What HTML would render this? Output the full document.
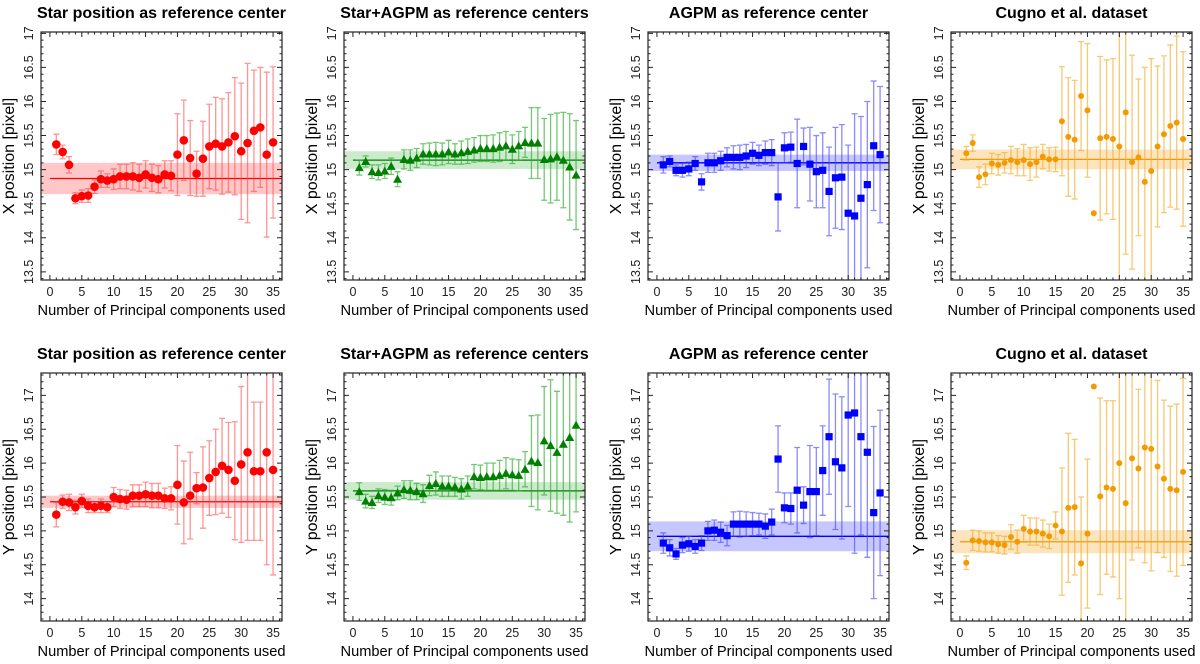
<!DOCTYPE html>
<html><head><meta charset="utf-8"><style>
html,body{margin:0;padding:0;background:#fff;}
svg{display:block;font-family:"Liberation Sans",sans-serif;}
</style></head><body>
<svg id="fig" width="1200" height="664" viewBox="0 0 1200 664"></svg>
<script>
const pcs = Array.from({length:35},(_,i)=>i+1);
const redXVal=[15.37,15.26,15.07,14.58,14.61,14.62,14.75,14.86,14.84,14.86,14.9,14.9,14.9,14.88,14.93,14.88,14.86,14.93,14.91,15.22,15.43,15.17,14.94,15.16,15.34,15.38,15.34,15.4,15.49,15.27,15.39,15.57,15.62,15.22,15.4];
const redXErr=[0.15,0.1,0.12,0.08,0.09,0.1,0.1,0.12,0.1,0.15,0.18,0.18,0.2,0.2,0.2,0.2,0.2,0.2,0.22,0.6,0.59,0.55,0.33,0.55,0.62,0.68,0.7,0.73,0.86,1.0,1.17,0.89,0.88,1.21,1.11];
const redXMean=[14.87,0.23];
const redYVal=[15.24,15.43,15.42,15.35,15.44,15.37,15.35,15.37,15.35,15.5,15.47,15.46,15.52,15.52,15.54,15.52,15.52,15.48,15.48,15.68,15.42,15.52,15.63,15.64,15.78,15.87,15.96,15.9,15.74,15.98,16.16,15.88,15.88,16.16,15.9];
const redYErr=[0.18,0.1,0.12,0.1,0.1,0.1,0.08,0.1,0.08,0.14,0.14,0.14,0.16,0.16,0.18,0.18,0.18,0.15,0.17,0.58,0.61,0.64,0.23,0.6,0.55,0.63,0.7,0.7,0.87,1.15,1.3,1.02,1.02,1.66,1.55];
const redYMean=[15.43,0.09];
const grnXVal=[15.03,15.12,14.97,14.96,14.98,15.05,14.86,15.15,15.14,15.17,15.23,15.23,15.23,15.23,15.26,15.23,15.25,15.27,15.29,15.31,15.31,15.31,15.33,15.35,15.3,15.35,15.4,15.39,15.39,15.15,15.16,15.19,15.14,15.04,14.92];
const grnXErr=[0.11,0.08,0.1,0.11,0.11,0.12,0.11,0.14,0.15,0.14,0.15,0.16,0.17,0.16,0.17,0.15,0.17,0.18,0.18,0.19,0.19,0.2,0.21,0.21,0.21,0.21,0.22,0.52,0.52,0.6,0.65,0.64,0.7,0.78,0.8];
const grnXMean=[15.14,0.13];
const grnYVal=[15.58,15.44,15.42,15.52,15.5,15.49,15.56,15.61,15.6,15.58,15.55,15.67,15.7,15.66,15.66,15.65,15.62,15.66,15.8,15.79,15.8,15.8,15.82,15.85,15.83,15.82,15.91,16.03,16.01,16.33,16.26,16.16,16.28,16.38,16.56];
const grnYErr=[0.13,0.1,0.09,0.1,0.11,0.11,0.1,0.13,0.14,0.12,0.13,0.15,0.17,0.15,0.15,0.14,0.15,0.15,0.18,0.18,0.2,0.2,0.22,0.23,0.23,0.23,0.26,0.67,0.7,0.8,0.97,0.9,1.05,1.25,1.28];
const grnYMean=[15.59,0.13];
const bluXVal=[15.07,15.12,14.99,14.99,15.01,15.09,14.82,15.1,15.1,15.13,15.18,15.18,15.18,15.2,15.24,15.21,15.25,15.25,14.6,15.32,15.33,15.09,15.34,15.08,14.97,14.99,14.68,14.88,14.89,14.36,14.32,14.58,14.78,15.35,15.22];
const bluXErr=[0.12,0.08,0.08,0.1,0.1,0.1,0.12,0.14,0.14,0.14,0.14,0.17,0.18,0.17,0.16,0.15,0.17,0.19,0.5,0.22,0.22,0.65,0.27,0.54,0.53,0.55,0.65,0.74,0.77,1.0,1.5,1.2,1.22,0.95,1.0];
const bluXMean=[15.1,0.12];
const bluYVal=[14.82,14.75,14.66,14.79,14.81,14.77,14.82,15.0,15.01,14.98,14.93,15.1,15.1,15.1,15.1,15.1,15.07,15.13,16.06,15.34,15.33,15.6,15.38,15.58,15.58,15.89,16.39,16.02,15.93,16.71,16.74,16.39,16.16,15.27,15.56];
const bluYErr=[0.15,0.12,0.08,0.11,0.11,0.1,0.11,0.14,0.15,0.15,0.15,0.18,0.19,0.18,0.17,0.16,0.18,0.19,0.49,0.22,0.23,0.63,0.27,0.68,0.65,0.66,0.85,1.0,1.05,1.35,2.07,1.45,1.55,1.27,1.22];
const bluYMean=[14.92,0.22];
const orgXVal=[15.24,15.39,14.89,14.93,15.09,15.07,15.1,15.14,15.11,15.14,15.08,15.11,15.19,15.15,15.15,15.71,15.48,15.44,16.08,15.87,14.36,15.46,15.48,15.45,15.34,15.84,15.11,15.18,14.82,14.98,15.34,15.52,15.64,15.69,15.45];
const orgXErr=[0.1,0.12,0.15,0.15,0.15,0.15,0.15,0.2,0.2,0.23,0.24,0.22,0.18,0.17,0.18,0.8,0.87,0.87,0.8,0.98,0,1.2,1.13,1.18,2.0,2.08,1.57,1.15,1.68,1.65,1.18,1.15,1.19,1.27,1.28];
const orgXMean=[15.15,0.145];
const orgYVal=[14.53,14.86,14.85,14.83,14.83,14.8,14.79,14.91,14.84,15.03,14.99,14.99,14.96,14.92,15.08,14.99,15.34,15.35,14.52,14.96,17.13,15.51,15.64,15.62,16.0,15.41,16.07,15.92,16.23,16.21,15.95,15.77,15.62,15.6,15.87];
const orgYErr=[0.1,0.15,0.15,0.14,0.14,0.13,0.13,0.18,0.17,0.2,0.2,0.2,0.2,0.18,0.2,0.94,1.1,1.0,0.98,1.1,0,1.45,1.28,1.3,2.0,2.0,1.5,1.17,1.7,1.8,1.27,1.16,1.22,1.27,1.38];
const orgYMean=[14.84,0.17];
const xTicks=[0,5,10,15,20,25,30,35];
const yTicksTop=[13.5,14,14.5,15,15.5,16,16.5,17];
const yTicksBot=[14,14.5,15,15.5,16,16.5,17];
const titlesTop=["Star position as reference center","Star+AGPM as reference centers","AGPM as reference center","Cugno et al. dataset"];
const titlesBot=["Star position as reference center","Star+AGPM as reference centers","AGPM as reference center","Cugno et al. dataset"];

const NS="http://www.w3.org/2000/svg";
const svg=document.getElementById('fig');
function el(tag,attrs,parent){const e=document.createElementNS(NS,tag);for(const k in attrs)e.setAttribute(k,attrs[k]);(parent||svg).appendChild(e);return e;}
const lefts=[41,344,648,951];
const W=241;
const styles=[
 {c:'#f00',e:'rgba(255,60,60,0.55)',b:'rgba(255,0,0,0.22)',m:'circle',s:4.3,n:'star'},
 {c:'#008000',e:'rgba(40,170,40,0.65)',b:'rgba(0,150,0,0.2)',m:'tri',s:4.5,n:'star-agpm'},
 {c:'#0000ff',e:'rgba(60,60,255,0.6)',b:'rgba(0,0,255,0.22)',m:'sq',s:3.6,n:'agpm'},
 {c:'#f29a00',e:'rgba(245,170,40,0.65)',b:'rgba(245,170,40,0.3)',m:'circle',s:3,n:'cugno'}];
const rows=[
 {top:32,bot:280,d:[13.38,17.02],ticks:yTicksTop,lab:'X position [pixel]',titles:titlesTop,key:'x',
  data:[[redXVal,redXErr,redXMean],[grnXVal,grnXErr,grnXMean],[bluXVal,bluXErr,bluXMean],[orgXVal,orgXErr,orgXMean]]},
 {top:373,bot:621,d:[13.67,17.33],ticks:yTicksBot,lab:'Y position [pixel]',titles:titlesBot,key:'y',
  data:[[redYVal,redYErr,redYMean],[grnYVal,grnYErr,grnYMean],[bluYVal,bluYErr,bluYMean],[orgYVal,orgYErr,orgYMean]]}];

rows.forEach((r,ri)=>{
 lefts.forEach((L,pi)=>{
  const st=styles[pi];
  const g=el('g',{});
  
  
  const xs=v=>L+(v+1.4)/37.8*W;
  const ys=v=>r.bot-(v-r.d[0])/(r.d[1]-r.d[0])*(r.bot-r.top);
  const cid='c'+ri+pi;
  const cp=el('clipPath',{id:cid},g);el('rect',{x:L,y:r.top,width:W,height:r.bot-r.top},cp);
  const plot=el('g',{'clip-path':'url(#'+cid+')'},g);
  const [vals,errs,mean]=r.data[pi];
  const band=el('rect',{x:L,y:ys(mean[0]+mean[1]),width:W,height:ys(mean[0]-mean[1])-ys(mean[0]+mean[1]),fill:st.b},plot);
  
  
  const ml=el('line',{x1:xs(0),x2:L+W,y1:ys(mean[0]),y2:ys(mean[0]),stroke:st.c,'stroke-width':1.3},plot);
  
  
  pcs.forEach((n,i)=>{
   const x=xs(n),y=ys(vals[i]),e=errs[i];
   if(e>0){
    const y1=ys(vals[i]+e),y2=ys(vals[i]-e);
    const eb=el('path',{d:`M${x},${y1}V${y2}M${x-3},${y1}H${x+3}M${x-3},${y2}H${x+3}`,stroke:st.e,'stroke-width':1.3,fill:'none'},plot);
    
    
   }
   let m;
   if(st.m==='circle')m=el('circle',{cx:x,cy:y,r:st.s,fill:st.c},plot);
   else if(st.m==='sq')m=el('rect',{x:x-st.s,y:y-st.s,width:2*st.s,height:2*st.s,fill:st.c},plot);
   else m=el('path',{d:`M${x},${y-st.s}L${x+st.s},${y+st.s*0.8}L${x-st.s},${y+st.s*0.8}Z`,fill:st.c},plot);
   
   
  });
  el('rect',{x:L,y:r.top,width:W,height:r.bot-r.top,fill:'none',stroke:'#222','stroke-width':1.2},g);
  let tk='';
  for(let v=0;v<=36;v++){const x=xs(v),len=v%5===0?5:2.5;tk+=`M${x},${r.bot}v${-len}M${x},${r.top}v${len}`;}
  for(let k=Math.ceil(r.d[0]*10);k<=Math.floor(r.d[1]*10);k++){const y=ys(k/10),len=k%5===0?5:2.5;tk+=`M${L},${y}h${len}M${L+W},${y}h${-len}`;}
  el('path',{d:tk,stroke:'#222','stroke-width':1,fill:'none'},g);
  xTicks.forEach(v=>{const t=el('text',{x:xs(v),y:r.bot+16,'text-anchor':'middle','font-size':12.5,fill:'#222'},g);t.textContent=v;
   });
  r.ticks.forEach(v=>{const y=ys(v);const t=el('text',{x:0,y:0,'text-anchor':'middle','font-size':12.5,fill:'#222',transform:`translate(${L-8},${y}) rotate(-90)`},g);t.textContent=v;
   });
  const xl=el('text',{x:L+W/2,y:r.bot+35,'text-anchor':'middle','font-size':15,textLength:248,lengthAdjust:'spacingAndGlyphs',fill:'#000'},g);xl.textContent='Number of Principal components used';
  
  const yl=el('text',{x:0,y:0,'text-anchor':'middle','font-size':16,fill:'#000',transform:`translate(${L-27},${(r.top+r.bot)/2}) rotate(-90)`},g);yl.textContent=r.lab;
  
  const ti=el('text',{x:L+W/2,y:r.top-14,'text-anchor':'middle','font-size':16,'font-weight':'bold',fill:'#000'},g);ti.textContent=r.titles[pi];
  
 });
});
</script>
</body></html>
